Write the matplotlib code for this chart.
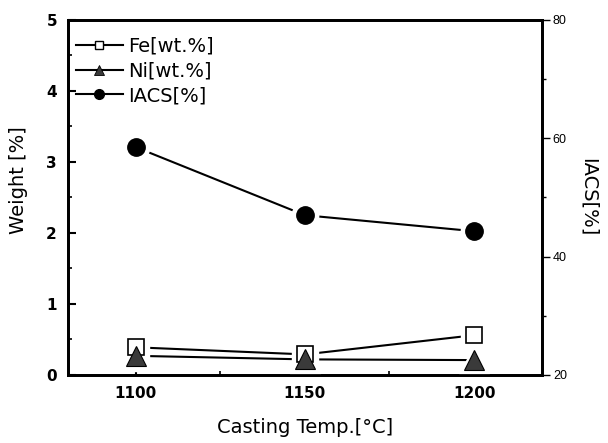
import matplotlib
matplotlib.use("Agg")
import matplotlib.pyplot as plt
from matplotlib.lines import Line2D
from matplotlib.ticker import MultipleLocator

temps = [1100, 1150, 1200]
fe = [0.39, 0.29, 0.56]
ni = [0.27, 0.22, 0.21]
iacs = [58.5, 47.0, 44.3]
xticks = [1100, 1150, 1200]
yticks_left = [0, 1, 2, 3, 4, 5]
yticks_right = [20, 40, 60, 80]

plt.rcParams['font.family'] = ['DejaVu Sans']

fig = plt.figure(figsize=(6.08, 4.43), dpi=100)
ax = fig.add_axes([0.112, 0.1535, 0.779, 0.8015])
ax2 = ax.twinx()

ax.set_xlim(1080, 1220)
ax.set_ylim(0, 5)
ax2.set_ylim(20, 80)

tri_col = '#3a3a3a'
# lines
ax.plot(temps, fe, color='black', lw=1.5, zorder=2)
ax.plot(temps, ni, color='black', lw=1.5, zorder=2)
ax2.plot(temps, iacs, color='black', lw=1.5, zorder=2)
# white halos to create gaps between lines and markers
ax.plot(temps, fe, ls='none', marker='s', ms=19, mfc='white', mec='white', zorder=3)
ax.plot(temps, ni, ls='none', marker='^', ms=22, mfc='white', mec='white', zorder=3)
ax2.plot(temps, iacs, ls='none', marker='o', ms=19, mfc='white', mec='white', zorder=3)
# markers
ax.plot(temps, fe, ls='none', marker='s', ms=11, mfc='white', mec='black', mew=1.2, zorder=4)
ax.plot(temps, ni, ls='none', marker='^', ms=14, mfc=tri_col, mec='black', mew=0.8, zorder=5)
ax2.plot(temps, iacs, ls='none', marker='o', ms=12.5, mfc='black', mec='black', zorder=4)

# ticks
ax.set_xticks(xticks)
ax.set_xticklabels([str(t) for t in xticks], fontsize=11, fontweight='bold')
ax.xaxis.set_minor_locator(MultipleLocator(25))
ax.set_yticks(yticks_left)
ax.set_yticklabels([str(t) for t in yticks_left], fontsize=11, fontweight='bold')
ax.yaxis.set_minor_locator(MultipleLocator(0.5))
ax.tick_params(axis='both', which='major', direction='in', length=6, width=1.5, pad=8)
ax.tick_params(axis='both', which='minor', direction='in', length=3, width=1.2)
ax.tick_params(axis='x', which='both', top=False)
ax.tick_params(axis='y', which='both', right=False)

ax2.set_yticks(yticks_right)
ax2.set_yticklabels([str(t) for t in yticks_right], fontsize=9,
                    family=['Liberation Sans Narrow', 'Liberation Sans'])
ax2.yaxis.set_minor_locator(MultipleLocator(10))
ax2.tick_params(axis='y', which='major', direction='out', length=6, width=1.0, pad=2)
ax2.tick_params(axis='y', which='minor', direction='out', length=3, width=1.0)

for a in (ax, ax2):
    for s in a.spines.values():
        s.set_linewidth(2.0)
        s.set_color('black')

ax.set_xlabel('Casting Temp.[\u00b0C]', fontsize=14, labelpad=12)
ax.set_ylabel('Weight [%]', fontsize=14)
ax.yaxis.set_label_coords(-0.085, 0.55)
ax2.set_ylabel('IACS[%]', fontsize=14, rotation=-90, labelpad=22)

handles = [
    Line2D([], [], color='black', lw=1.5, marker='s', ms=6, mfc='white', mec='black', mew=1.0),
    Line2D([], [], color='black', lw=1.5, marker='^', ms=7, mfc=tri_col, mec='black', mew=0.6),
    Line2D([], [], color='black', lw=1.5, marker='o', ms=7, mfc='black', mec='black'),
]
labels = ['Fe[wt.%]', 'Ni[wt.%]', 'IACS[%]']
leg = ax2.legend(handles, labels, loc='upper left', bbox_to_anchor=(0.0, 0.975),
                 frameon=False, fontsize=14,
                 handlelength=2.4, handletextpad=0.3, labelspacing=0.3,
                 borderaxespad=0.3, borderpad=0.1)

fig.savefig('out.png', dpi=100)
